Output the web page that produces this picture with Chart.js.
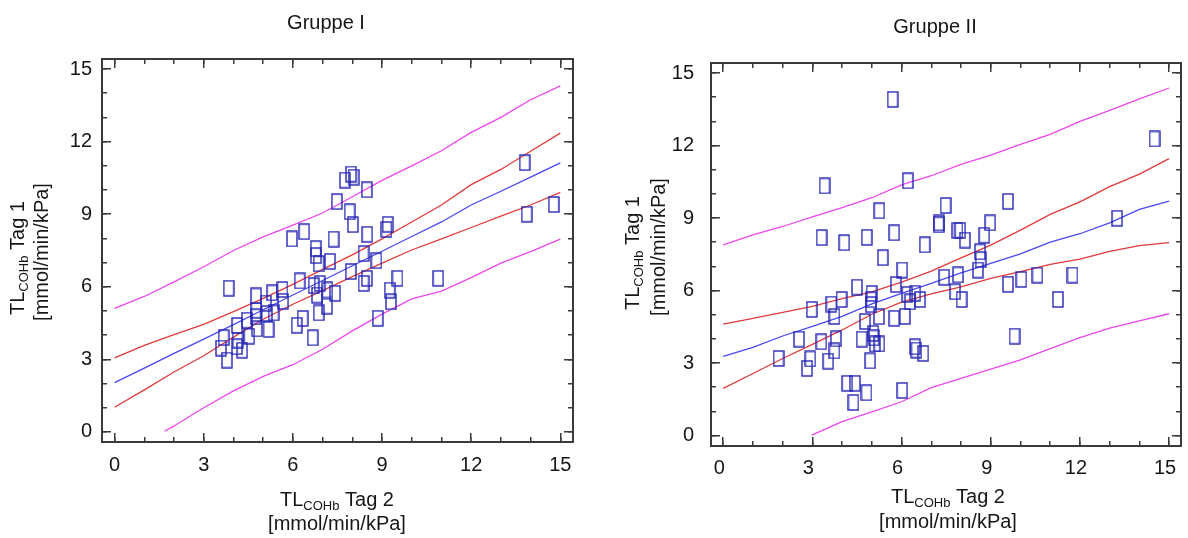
<!DOCTYPE html>
<html lang="de">
<head>
<meta charset="utf-8">
<title>TL COHb Tag 1 / Tag 2</title>
<script src="https://cdn.jsdelivr.net/npm/chart.js@4.4.1/dist/chart.umd.min.js"></script>
<style>
  html, body { margin: 0; padding: 0; background: #fff; }
  .wrap { position: relative; width: 1188px; height: 538px; overflow: hidden; }
  .panel { position: absolute; top: 0; width: 594px; height: 538px; }
  #panelLeft { left: 0; }
  #panelRight { left: 594px; }
</style>
</head>
<body>
<div class="wrap">
  <div class="panel" id="panelLeft"><canvas id="chartGroupOne"></canvas></div>
  <div class="panel" id="panelRight"><canvas id="chartGroupTwo"></canvas></div>
</div>
<script>
// tick values (labels every 3, minor marks every 1)
const majorTicks = [0, 3, 6, 9, 12, 15];
const minorTicks = [0, 1, 2, 3, 4, 5, 6, 7, 8, 9, 10, 11, 12, 13, 14, 15];

// x positions of the fitted curves
const curveX = [0, 1, 2, 3, 4, 5, 6, 7, 8, 9, 10, 11, 12, 13, 14, 15];

// --- Gruppe I ---
const g1X = [3.84, 3.67, 3.58, 3.78, 4.12, 4.14, 4.12, 4.29, 4.45, 4.53, 4.76, 4.75, 4.79, 4.77, 5.09, 5.12,
  5.18, 5.30, 5.35, 5.65, 5.67, 5.97, 6.13, 6.23, 6.33, 6.38, 6.67, 6.70, 6.77, 6.78, 6.87, 6.87,
  6.90, 6.81, 7.16, 7.15, 7.25, 7.37, 7.42, 7.48, 7.75, 7.91, 7.96, 8.02, 8.04, 7.95, 8.38, 8.38,
  8.49, 8.50, 8.49, 8.81, 8.86, 9.15, 9.19, 9.26, 9.30, 9.52, 10.89, 13.80, 13.87, 14.78];
const g1Y = [5.94, 3.90, 3.47, 2.97, 4.40, 3.80, 3.52, 3.38, 4.62, 3.96, 5.62, 4.76, 4.26, 5.03, 5.33, 4.90,
  4.24, 5.75, 4.92, 5.89, 5.40, 7.98, 4.41, 6.24, 4.69, 8.28, 3.89, 6.05, 7.58, 7.29, 6.95, 4.92,
  6.14, 5.66, 5.87, 5.20, 7.05, 7.97, 5.73, 9.52, 10.41, 9.10, 10.66, 8.57, 10.53, 6.63, 7.37, 6.14,
  10.01, 8.17, 6.35, 7.08, 4.70, 8.37, 8.58, 5.86, 5.38, 6.35, 6.35, 11.13, 9.00, 9.40];
const g1Fit = [2.04, 2.64, 3.25, 3.84, 4.44, 5.05, 5.66, 6.26, 6.87, 7.47, 8.08, 8.68, 9.38, 9.95, 10.53, 11.12];
const g1ConfUpper = [3.06, 3.58, 4.02, 4.45, 4.97, 5.52, 6.10, 6.72, 7.32, 7.98, 8.68, 9.38, 10.22, 10.85, 11.60, 12.35];
const g1ConfLower = [1.02, 1.74, 2.48, 3.15, 3.92, 4.66, 5.28, 5.84, 6.42, 6.98, 7.52, 7.98, 8.45, 8.92, 9.38, 9.90];
const g1PredUpper = [5.11, 5.60, 6.20, 6.83, 7.50, 8.06, 8.55, 9.05, 9.72, 10.40, 11.00, 11.62, 12.38, 13.00, 13.73, 14.30];
const g1PredLowerX = [1.68, 2, 3, 4, 5, 6, 7, 8, 9, 10, 11, 12, 13, 14, 15];
const g1PredLower = [0.03, 0.25, 1.00, 1.70, 2.30, 2.78, 3.42, 4.18, 4.87, 5.50, 5.82, 6.38, 6.98, 7.45, 7.97];

// --- Gruppe II ---
const g2X = [5.70, 14.51, 3.41, 6.21, 5.25, 7.48, 9.58, 7.26, 7.25, 7.88, 7.97, 8.13, 8.78, 8.98, 3.31, 4.07,
  4.83, 5.75, 5.37, 6.78, 6.02, 8.64, 8.66, 8.57, 7.43, 7.90, 7.80, 8.02, 9.58, 10.03, 10.57, 11.75,
  11.26, 13.25, 9.80, 4.50, 4.99, 4.98, 4.97, 5.81, 6.19, 6.46, 6.28, 6.62, 2.98, 3.64, 3.98, 3.74,
  2.55, 3.30, 3.79, 3.74, 4.77, 5.24, 5.75, 6.11, 4.66, 5.05, 5.07, 5.10, 5.25, 1.86, 2.93, 3.53,
  2.82, 4.94, 6.45, 6.50, 6.73, 4.17, 4.43, 4.82, 4.38, 6.02];
const g2Y = [13.91, 12.27, 10.33, 10.54, 9.30, 9.52, 9.69, 8.80, 8.72, 8.49, 8.49, 8.09, 8.29, 8.80, 8.19, 7.98,
  8.20, 8.39, 7.36, 7.89, 6.85, 7.60, 7.28, 6.85, 6.55, 6.65, 5.95, 5.63, 6.26, 6.46, 6.64, 6.64,
  5.63, 8.99, 4.11, 6.14, 5.88, 5.62, 5.42, 6.25, 5.84, 5.89, 5.53, 5.63, 5.22, 5.44, 5.63, 4.93,
  3.99, 3.88, 4.00, 3.50, 4.72, 4.92, 4.85, 4.93, 3.99, 4.23, 4.04, 3.79, 3.79, 3.19, 3.17, 3.08,
  2.78, 3.09, 3.67, 3.54, 3.40, 2.16, 2.16, 1.77, 1.37, 1.87];
const g2Fit = [3.28, 3.65, 4.12, 4.52, 4.93, 5.45, 5.88, 6.30, 6.73, 7.12, 7.52, 8.00, 8.35, 8.80, 9.36, 9.70];
const g2ConfUpper = [4.61, 4.85, 5.10, 5.35, 5.67, 5.95, 6.35, 6.80, 7.35, 7.88, 8.50, 9.15, 9.67, 10.30, 10.82, 11.46];
const g2ConfLower = [1.95, 2.57, 3.19, 3.77, 4.37, 5.02, 5.52, 5.86, 6.15, 6.50, 6.78, 7.08, 7.30, 7.62, 7.86, 7.98];
const g2PredUpper = [7.89, 8.30, 8.65, 9.05, 9.43, 9.84, 10.37, 10.75, 11.22, 11.60, 12.05, 12.46, 13.00, 13.45, 13.93, 14.38];
const g2PredLowerX = [2.98, 4, 5, 6, 7, 8, 9, 10, 11, 12, 13, 14, 15];
const g2PredLower = [0.02, 0.58, 0.98, 1.40, 1.98, 2.37, 2.75, 3.13, 3.60, 4.05, 4.45, 4.75, 5.04];

const FONT = '"Liberation Sans", Arial, Helvetica, sans-serif';
const FRAME = '#3a3a3a';
const TEXT = '#161616';
const UNIT = '[mmol/min/kPa]';

// open rectangle marker used for the measurements
function makeBoxMarker(color) {
  const c = document.createElement('canvas');
  c.width = 12;
  c.height = 17;
  const g = c.getContext('2d');
  g.strokeStyle = color;
  g.lineWidth = 1.4;
  g.strokeRect(1, 1, 10, 15);
  return c;
}
const boxMarker = makeBoxMarker('#2626b4');

function toPoints(xs, ys) {
  return xs.map((x, i) => ({ x, y: ys[i] }));
}

function curve(xs, ys, color) {
  return {
    type: 'scatter',
    data: toPoints(xs, ys),
    showLine: true,
    borderColor: color,
    borderWidth: 1.3,
    pointRadius: 0,
    tension: 0,
    fill: false,
    xAxisID: 'x',
    yAxisID: 'y',
  };
}

// one side of the frame: border plus inward tick marks
function tickAxis(position, range, values, tickLength, opts = {}) {
  const horizontal = position === 'top' || position === 'bottom';
  return {
    type: 'linear',
    position,
    min: range[0],
    max: range[1],
    weight: opts.weight || 0,
    afterBuildTicks: (scale) => {
      scale.ticks = values.map((v) => ({ value: v }));
    },
    afterFit: (scale) => {
      if (horizontal) scale.height = opts.size || 0;
      else scale.width = opts.size || 0;
      // end labels sit inside the frame, no extra room needed
      scale.paddingLeft = 0;
      scale.paddingRight = 0;
      scale.paddingTop = 0;
      scale.paddingBottom = 0;
    },
    grid: {
      drawOnChartArea: false,
      drawTicks: true,
      tickLength: -tickLength,
      color: FRAME,
      lineWidth: 1.5,
    },
    border: { display: opts.border !== false, color: FRAME, width: 2 },
    ticks: {
      display: !!opts.labels,
      autoSkip: false,
      maxRotation: 0,
      padding: opts.labelPad || 0,
      labelOffset: opts.labelOffset || 0,
      color: TEXT,
      font: { family: FONT, size: 20 },
    },
  };
}

// draws "TL" with the COHb subscript followed by the rest of the line, centred on cx
function drawRuns(ctx, runs, cx, baseline) {
  let total = 0;
  runs.forEach((r) => {
    ctx.font = `${r.size}px ${FONT}`;
    r.w = ctx.measureText(r.text).width;
    total += r.w;
  });
  let x = cx - total / 2;
  runs.forEach((r) => {
    ctx.font = `${r.size}px ${FONT}`;
    ctx.fillText(r.text, x, baseline + (r.shift || 0));
    x += r.w;
  });
}

function tlRuns(day) {
  return [
    { text: 'TL', size: 20 },
    { text: 'COHb', size: 13, shift: 4 },
    { text: ' ' + day, size: 20 },
  ];
}

const axisTextPlugin = {
  id: 'axisText',
  afterDraw(chart, args, o) {
    const ctx = chart.ctx;
    ctx.save();
    ctx.fillStyle = TEXT;
    ctx.textAlign = 'left';
    ctx.textBaseline = 'alphabetic';

    drawRuns(ctx, [{ text: o.title, size: 20 }], o.titleX, o.titleY);

    drawRuns(ctx, tlRuns('Tag 2'), o.xTitleX, o.xTitleY1);
    drawRuns(ctx, [{ text: UNIT, size: 20 }], o.xTitleX, o.xTitleY2);

    ctx.save();
    ctx.translate(o.yTitleX1, o.yTitleY1);
    ctx.rotate(-Math.PI / 2);
    drawRuns(ctx, tlRuns('Tag 1'), 0, 0);
    ctx.restore();

    ctx.save();
    ctx.translate(o.yTitleX2, o.yTitleY2);
    ctx.rotate(-Math.PI / 2);
    drawRuns(ctx, [{ text: UNIT, size: 20 }], 0, 0);
    ctx.restore();

    ctx.restore();
  },
};

function buildChart(canvasId, p) {
  const ctx = document.getElementById(canvasId);
  return new Chart(ctx, {
    type: 'scatter',
    data: {
      datasets: [
        {
          data: toPoints(p.pointsX, p.pointsY),
          pointStyle: boxMarker,
          pointRadius: 6,
          showLine: false,
          xAxisID: 'x',
          yAxisID: 'y',
        },
        curve(curveX, p.fit, '#4848f0'),
        curve(curveX, p.confUpper, '#e23a3a'),
        curve(curveX, p.confLower, '#e23a3a'),
        curve(curveX, p.predUpper, '#ee46ee'),
        curve(p.predLowerX, p.predLower, '#ee46ee'),
      ],
    },
    options: {
      responsive: true,
      maintainAspectRatio: false,
      animation: false,
      events: [],
      layout: { padding: { top: p.padTop, right: p.padRight, left: 0, bottom: 0 } },
      plugins: {
        legend: { display: false },
        title: { display: false },
        tooltip: { enabled: false },
        axisText: p.text,
      },
      scales: {
        x: tickAxis('bottom', p.xRange, majorTicks, 9, {
          size: p.xAxisHeight, labels: true, labelPad: p.xLabelPad, labelOffset: p.xLabelOffset,
        }),
        xMinor: tickAxis('bottom', p.xRange, minorTicks, 5, { weight: -1, border: false }),
        xTop: tickAxis('top', p.xRange, majorTicks, 9),
        xTopMinor: tickAxis('top', p.xRange, minorTicks, 5, { weight: -1, border: false }),
        y: tickAxis('left', p.yRange, majorTicks, 9, {
          size: p.yAxisWidth, labels: true, labelPad: p.yLabelPad,
        }),
        yMinor: tickAxis('left', p.yRange, minorTicks, 5, { weight: -1, border: false }),
        yRight: tickAxis('right', p.yRange, majorTicks, 9),
        yRightMinor: tickAxis('right', p.yRange, minorTicks, 5, { weight: -1, border: false }),
      },
    },
    plugins: [axisTextPlugin],
  });
}

buildChart('chartGroupOne', {
  pointsX: g1X, pointsY: g1Y,
  fit: g1Fit, confUpper: g1ConfUpper, confLower: g1ConfLower,
  predUpper: g1PredUpper, predLowerX: g1PredLowerX, predLower: g1PredLower,
  xRange: [-0.424, 15.427], yRange: [-0.414, 15.414],
  padTop: 59, padRight: 21, yAxisWidth: 102, xAxisHeight: 96,
  xLabelPad: 20, xLabelOffset: 0, yLabelPad: 19,
  text: {
    title: 'Gruppe I', titleX: 326, titleY: 29,
    xTitleX: 337, xTitleY1: 506, xTitleY2: 530,
    yTitleX1: 24, yTitleY1: 258, yTitleX2: 47.5, yTitleY2: 252,
  },
});

buildChart('chartGroupTwo', {
  pointsX: g2X, pointsY: g2Y,
  fit: g2Fit, confUpper: g2ConfUpper, confLower: g2ConfLower,
  predUpper: g2PredUpper, predLowerX: g2PredLowerX, predLower: g2PredLower,
  xRange: [-0.411, 15.40], yRange: [-0.431, 15.414],
  padTop: 63, padRight: 4, yAxisWidth: 117, xAxisHeight: 92,
  xLabelPad: 19, xLabelOffset: -4, yLabelPad: 26,
  text: {
    title: 'Gruppe II', titleX: 341, titleY: 33,
    xTitleX: 354, xTitleY1: 503, xTitleY2: 528,
    yTitleX1: 44.5, yTitleY1: 253, yTitleX2: 71, yTitleY2: 247,
  },
});
</script>
</body>
</html>
